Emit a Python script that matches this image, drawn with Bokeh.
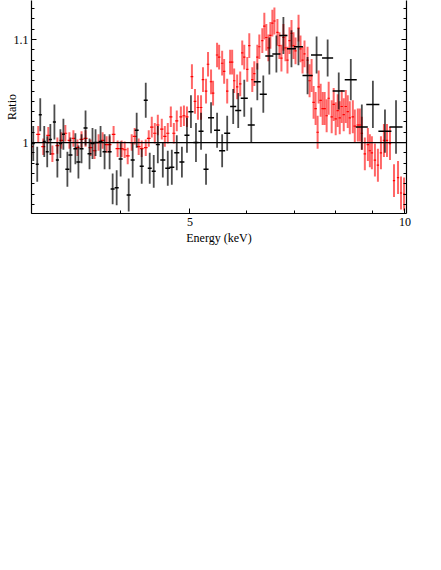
import numpy as np
from bokeh.plotting import figure
from bokeh.models import (Range1d, FixedTicker, Span, LinearAxis,
                          ColumnDataSource, PrintfTickFormatter, CustomJSTickFormatter)
from bokeh.embed import file_html
from bokeh.resources import INLINE

# ---------------- data ----------------
# black data set (coarser bins)
black_energy = [2.988, 3.017, 3.056, 3.086, 3.126, 3.156, 3.188, 3.230, 3.261, 3.293,
                3.325, 3.368, 3.401, 3.456, 3.490, 3.525, 3.571, 3.617, 3.652, 3.688,
                3.748, 3.797, 3.859, 3.897, 3.948, 3.999, 4.104, 4.157, 4.211, 4.280,
                4.336, 4.392, 4.449, 4.508, 4.581, 4.655, 4.716, 4.792, 4.872, 4.952,
                5.016, 5.098, 5.182, 5.266, 5.352, 5.457, 5.547, 5.638, 5.748, 5.842,
                5.957, 6.093, 6.213, 6.334, 6.459, 6.607, 6.758, 6.936, 7.094, 7.305,
                7.521, 7.794, 8.078, 8.398, 8.702, 9.018, 9.376, 9.716]
black_ratio = [0.980, 0.999, 0.979, 1.027, 1.001, 0.991, 1.003, 1.020, 0.983, 0.999,
               1.008, 0.974, 0.988, 0.994, 0.981, 0.994, 1.014, 0.989, 0.999, 1.000,
               1.001, 0.991, 0.991, 0.955, 0.956, 0.984, 0.949, 0.983, 1.012, 0.977,
               1.041, 0.975, 0.972, 0.998, 0.983, 0.975, 0.976, 0.990, 0.981, 1.007,
               1.030, 1.000, 1.011, 0.974, 1.024, 1.012, 0.992, 1.009, 1.035, 1.031,
               1.043, 1.017, 1.059, 1.047, 1.084, 1.086, 1.104, 1.091, 1.093, 1.065,
               1.085, 1.082, 1.050, 1.061, 1.015, 1.037, 1.011, 1.015]
black_err = [0.017, 0.017, 0.017, 0.016, 0.015, 0.015, 0.015, 0.017, 0.017, 0.014,
             0.015, 0.017, 0.017, 0.015, 0.016, 0.014, 0.017, 0.015, 0.015, 0.013,
             0.015, 0.017, 0.017, 0.015, 0.017, 0.017, 0.016, 0.017, 0.017, 0.017,
             0.017, 0.015, 0.016, 0.018, 0.017, 0.017, 0.017, 0.017, 0.015, 0.017,
             0.016, 0.019, 0.018, 0.015, 0.015, 0.017, 0.016, 0.017, 0.017, 0.017,
             0.018, 0.017, 0.018, 0.018, 0.018, 0.018, 0.018, 0.018, 0.018, 0.018,
             0.018, 0.018, 0.018, 0.020, 0.022, 0.023, 0.021, 0.026]
black_halfwidth = [0.015, 0.015, 0.015, 0.015, 0.015, 0.015, 0.016, 0.016, 0.016, 0.016,
                   0.016, 0.022, 0.022, 0.022, 0.023, 0.023, 0.023, 0.023, 0.024, 0.024,
                   0.024, 0.025, 0.025, 0.025, 0.026, 0.026, 0.027, 0.027, 0.027, 0.028,
                   0.028, 0.028, 0.029, 0.029, 0.037, 0.038, 0.038, 0.039, 0.039, 0.040,
                   0.041, 0.041, 0.042, 0.043, 0.052, 0.053, 0.054, 0.055, 0.056, 0.057,
                   0.068, 0.069, 0.070, 0.072, 0.084, 0.086, 0.088, 0.101, 0.103, 0.118,
                   0.134, 0.139, 0.157, 0.163, 0.169, 0.190, 0.197, 0.205]

# red data set (finer bins)
red_energy = [2.997, 3.066, 3.116, 3.167, 3.209, 3.261, 3.303, 3.346, 3.390, 3.434,
              3.479, 3.525, 3.571, 3.629, 3.676, 3.724, 3.773, 3.822, 3.859, 3.909,
              3.960, 4.012, 4.051, 4.091, 4.144, 4.184, 4.238, 4.280, 4.336, 4.378,
              4.421, 4.464, 4.508, 4.566, 4.611, 4.655, 4.701, 4.747, 4.792, 4.856,
              4.904, 4.952, 5.032, 5.082, 5.131, 5.182, 5.215, 5.266, 5.300, 5.352,
              5.387, 5.457, 5.493, 5.547, 5.583, 5.638, 5.692, 5.729, 5.766, 5.822,
              5.880, 5.918, 5.957, 6.015, 6.054, 6.113, 6.153, 6.213, 6.253, 6.314,
              6.355, 6.396, 6.438, 6.480, 6.522, 6.565, 6.629, 6.672, 6.715, 6.759,
              6.803, 6.847, 6.892, 6.937, 6.982, 7.027, 7.096, 7.141, 7.188, 7.234,
              7.305, 7.353, 7.401, 7.449, 7.497, 7.546, 7.571, 7.620, 7.670, 7.719,
              7.769, 7.820, 7.896, 7.947, 7.999, 8.051, 8.104, 8.156, 8.209, 8.263,
              8.316, 8.371, 8.453, 8.507, 8.590, 8.646, 8.702, 8.787, 8.873, 8.931,
              8.989, 9.077, 9.165, 9.255, 9.345, 9.437, 9.529, 9.653, 9.779, 9.874,
              9.971]
red_ratio = [0.996, 1.008, 0.996, 1.007, 0.989, 0.997, 1.002, 1.009, 1.002, 1.004,
             0.995, 1.003, 1.004, 0.995, 0.992, 1.000, 1.002, 0.998, 0.998, 1.008,
             0.994, 0.994, 0.993, 0.987, 1.000, 1.006, 0.996, 0.994, 0.995, 1.004,
             1.015, 1.009, 1.017, 1.013, 1.006, 1.009, 1.025, 1.009, 1.021, 1.025,
             1.026, 1.025, 1.064, 1.040, 1.034, 1.034, 1.061, 1.050, 1.076, 1.059,
             1.048, 1.085, 1.083, 1.077, 1.069, 1.050, 1.078, 1.078, 1.060, 1.054,
             1.057, 1.087, 1.083, 1.071, 1.094, 1.061, 1.067, 1.083, 1.093, 1.099,
             1.113, 1.102, 1.092, 1.104, 1.116, 1.118, 1.107, 1.094, 1.082, 1.102,
             1.092, 1.080, 1.099, 1.106, 1.094, 1.089, 1.111, 1.091, 1.080, 1.086,
             1.080, 1.060, 1.065, 1.039, 1.033, 1.010, 1.054, 1.041, 1.033, 1.033,
             1.026, 1.043, 1.025, 1.037, 1.023, 1.031, 1.024, 1.035, 1.027, 1.035,
             1.030, 1.024, 1.025, 1.016, 1.017, 1.017, 1.009, 0.989, 0.998, 0.992,
             0.990, 0.983, 0.978, 0.990, 1.002, 1.002, 0.999, 0.963, 0.966, 0.951,
             0.950]
red_err = [0.008, 0.008, 0.008, 0.008, 0.008, 0.008, 0.008, 0.008, 0.008, 0.008,
           0.008, 0.008, 0.008, 0.008, 0.008, 0.008, 0.008, 0.008, 0.008, 0.008,
           0.008, 0.008, 0.008, 0.008, 0.008, 0.008, 0.008, 0.008, 0.008, 0.008,
           0.010, 0.010, 0.010, 0.010, 0.010, 0.010, 0.010, 0.010, 0.010, 0.010,
           0.010, 0.010, 0.012, 0.012, 0.012, 0.012, 0.012, 0.012, 0.012, 0.012,
           0.012, 0.012, 0.012, 0.012, 0.012, 0.012, 0.012, 0.012, 0.012, 0.012,
           0.012, 0.012, 0.012, 0.012, 0.012, 0.012, 0.012, 0.012, 0.012, 0.012,
           0.013, 0.013, 0.013, 0.013, 0.013, 0.013, 0.013, 0.013, 0.013, 0.013,
           0.013, 0.013, 0.013, 0.013, 0.013, 0.013, 0.013, 0.013, 0.013, 0.013,
           0.013, 0.016, 0.016, 0.016, 0.016, 0.016, 0.016, 0.016, 0.016, 0.016,
           0.016, 0.016, 0.016, 0.016, 0.016, 0.016, 0.016, 0.016, 0.016, 0.016,
           0.016, 0.016, 0.016, 0.016, 0.016, 0.016, 0.016, 0.016, 0.016, 0.016,
           0.016, 0.016, 0.016, 0.016, 0.016, 0.016, 0.016, 0.016, 0.016, 0.016,
           0.016]
red_halfwidth = [0.020, 0.020, 0.020, 0.020, 0.020, 0.020, 0.020, 0.020, 0.020, 0.020,
                 0.023, 0.023, 0.023, 0.023, 0.023, 0.023, 0.023, 0.023, 0.023, 0.023,
                 0.026, 0.026, 0.026, 0.026, 0.026, 0.026, 0.026, 0.026, 0.026, 0.026,
                 0.024, 0.024, 0.024, 0.024, 0.024, 0.024, 0.024, 0.024, 0.024, 0.024,
                 0.024, 0.024, 0.022, 0.022, 0.022, 0.022, 0.022, 0.022, 0.022, 0.022,
                 0.022, 0.022, 0.022, 0.022, 0.022, 0.022, 0.022, 0.022, 0.022, 0.022,
                 0.022, 0.022, 0.022, 0.022, 0.022, 0.022, 0.022, 0.022, 0.022, 0.022,
                 0.024, 0.024, 0.024, 0.024, 0.024, 0.024, 0.024, 0.024, 0.024, 0.024,
                 0.024, 0.024, 0.024, 0.024, 0.024, 0.024, 0.024, 0.024, 0.024, 0.024,
                 0.024, 0.030, 0.030, 0.030, 0.030, 0.030, 0.030, 0.030, 0.030, 0.030,
                 0.030, 0.030, 0.030, 0.030, 0.030, 0.030, 0.030, 0.030, 0.030, 0.030,
                 0.030, 0.030, 0.035, 0.035, 0.035, 0.035, 0.035, 0.035, 0.035, 0.035,
                 0.035, 0.035, 0.035, 0.035, 0.035, 0.035, 0.035, 0.035, 0.035, 0.035,
                 0.035]

x_major_ticks = [5, 10]
x_minor_ticks = [3, 4, 6, 7, 8, 9]
y_major_ticks = [1.0, 1.1]
y_minor_ticks = [0.94, 0.95, 0.96, 0.97, 0.98, 0.99, 1.01, 1.02, 1.03, 1.04,
                 1.05, 1.06, 1.07, 1.08, 1.09, 1.11, 1.12, 1.13]

# ---------------- sources ----------------
def make_source(e, r, err, hw):
    e = np.array(e); r = np.array(r); err = np.array(err); hw = np.array(hw)
    return ColumnDataSource(dict(e=e, r=r, lo=r - err, hi=r + err,
                                 el=e - hw, eh=e + hw))

red_src = make_source(red_energy, red_ratio, red_err, red_halfwidth)
black_src = make_source(black_energy, black_ratio, black_err, black_halfwidth)

FONT = "Liberation Serif"

p = figure(frame_width=375, frame_height=213,
           x_axis_type="log",
           x_range=Range1d(3.0, 10.05), y_range=Range1d(0.9311, 1.1379),
           output_backend="svg", toolbar_location=None,
           min_border_left=31, min_border_right=8, min_border_top=0,
           min_border_bottom=10,
           background_fill_color="white", border_fill_color="white")
p.outline_line_color = None
p.grid.visible = False

# data
p.segment(x0="e", y0="lo", x1="e", y1="hi", source=red_src,
          line_color="#ff0000", line_alpha=0.6, line_width=2)
p.segment(x0="el", y0="r", x1="eh", y1="r", source=red_src,
          line_color="#ff0000", line_width=1.2)
p.segment(x0="e", y0="lo", x1="e", y1="hi", source=black_src,
          line_color="black", line_alpha=0.7, line_width=1.8)
p.segment(x0="el", y0="r", x1="eh", y1="r", source=black_src,
          line_color="black", line_width=1.5)

p.add_layout(Span(location=1.0, dimension="width", line_color="black",
                  line_width=1.2))

def style_axis(ax):
    ax.axis_line_color = "black"
    ax.axis_line_width = 1.2
    ax.major_tick_in = 5
    ax.major_tick_out = 0
    ax.minor_tick_in = 3
    ax.minor_tick_out = 0
    ax.major_tick_line_color = "black"
    ax.minor_tick_line_color = "black"
    ax.major_label_text_font = FONT
    ax.major_label_text_font_size = "12px"
    ax.major_label_text_color = "black"
    ax.axis_label_text_font = FONT
    ax.axis_label_text_font_size = "12px"
    ax.axis_label_text_font_style = "normal"
    ax.axis_label_text_color = "black"

xax = p.xaxis[0]
style_axis(xax)
xax.ticker = FixedTicker(ticks=x_major_ticks, minor_ticks=x_minor_ticks)
xax.formatter = PrintfTickFormatter(format="%g")
xax.axis_label = "Energy (keV)"
xax.major_label_standoff = 4
xax.axis_label_standoff = 2

yax = p.yaxis[0]
style_axis(yax)
yax.ticker = FixedTicker(ticks=y_major_ticks, minor_ticks=y_minor_ticks)
yax.formatter = PrintfTickFormatter(format="%g")
yax.major_label_standoff = 3
yax.axis_label = "Ratio"
yax.axis_label_standoff = -8

rax = LinearAxis(ticker=FixedTicker(ticks=y_major_ticks, minor_ticks=y_minor_ticks),
                 formatter=CustomJSTickFormatter(code="return ''"))
style_axis(rax)
rax.major_label_standoff = 0
rax.major_label_text_font_size = "0px"
p.add_layout(rax, "right")

open("out.html", "w").write(file_html(p, INLINE))
